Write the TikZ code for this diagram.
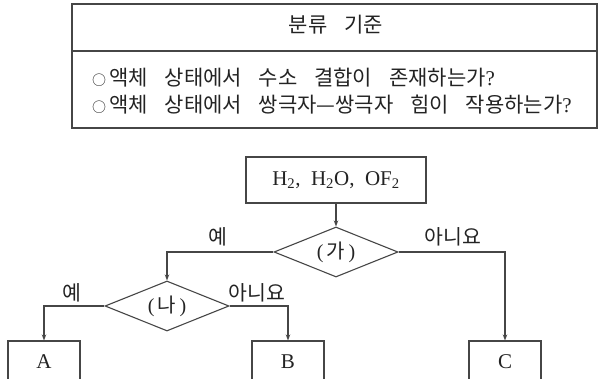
\documentclass[tikz,border=0pt]{standalone}
\usepackage{fontspec}
\setmainfont{Liberation Serif}
\newfontfamily\kr{Noto Sans CJK KR}
\usetikzlibrary{arrows.meta, shapes, positioning}
\definecolor{myline}{RGB}{70,70,70}
\definecolor{mytext}{RGB}{35,35,35}
\tikzset{>=Stealth, font=\kr}
\newcommand{\wgap}{\hspace{0.8em}}
\newcommand{\bul}{{\fontsize{14}{14}\selectfont ○}\hspace{0.15em}}

\begin{document}
\begin{tikzpicture}[x=1pt, y=-1pt,
mybox/.style={
  draw=myline,
  line width=1.1pt,
  rectangle,
  inner sep=0pt,
  text=mytext,
  font=\rmfamily\fontsize{21}{23}\selectfont
  },
mydiamond/.style={
  draw=myline,
  line width=1.1pt,
  diamond,
  aspect=2.5,
  inner sep=0pt,
  minimum width=124pt,
  minimum height=50pt,
  text=mytext,
  font=\kr\fontsize{20}{22}\selectfont
  },
mylabel/.style={
  inner sep=0pt,
  text=mytext,
  font=\kr\fontsize{20.5}{22}\selectfont
  },
mycrit/.style={
  mylabel,
  anchor=west,
  font=\kr\fontsize{21}{23}\selectfont
  },
arr/.style={
  draw=myline,
  line width=1.1pt,
  -{Stealth[length=6pt,width=4.5pt]}
  }
]
\useasboundingbox (0,0) rectangle (600,379);

%the criteria table
\draw[myline,line width=1.1pt] (72,4) rectangle (597,128);
\draw[myline,line width=1.1pt] (72,51) -- (597,51);
\node[mycrit,anchor=center] (title) at (336,25) {분류\wgap 기준};
\node[mycrit] (crit1) at (92,78)
  {\bul 액체\wgap 상태에서\wgap 수소\wgap 결합이\wgap 존재하는가{\rmfamily ?}};
\node[mycrit] (crit2) at (92,105)
  {\bul 액체\wgap 상태에서\wgap 쌍극자—쌍극자\wgap 힘이\wgap 작용하는가{\rmfamily ?}};

%the flow chart
\node[mybox,minimum width=180pt,minimum height=46pt] (src) at (336,180)
  {H\textsubscript{2},\ \ H\textsubscript{2}O,\ \ OF\textsubscript{2}};
\node[mydiamond] (ga) at (336,252) {{\rmfamily(}\,가\,{\rmfamily)}};
\node[mydiamond] (na) at (167,306) {{\rmfamily(}\,나\,{\rmfamily)}};
\node[mybox,minimum width=72pt,minimum height=42pt] (A) at (44,362) {A};
\node[mybox,minimum width=72pt,minimum height=42pt] (B) at (288,362) {B};
\node[mybox,minimum width=72pt,minimum height=42pt] (C) at (505,362) {C};

%the arrows
\draw[arr] (src.south) -- (ga.north);
\draw[arr] (ga.west) -| (na.north);
\draw[arr] (ga.east) -| (C.north);
\draw[arr] (na.west) -| (A.north);
\draw[arr] (na.east) -| (B.north);

%the answers
\node[mylabel] (gayes) at (218,237) {예};
\node[mylabel] (gano) at (453,237) {아니요};
\node[mylabel] (nayes) at (72,293) {예};
\node[mylabel] (nano) at (257,293) {아니요};

\end{tikzpicture}
\end{document}
